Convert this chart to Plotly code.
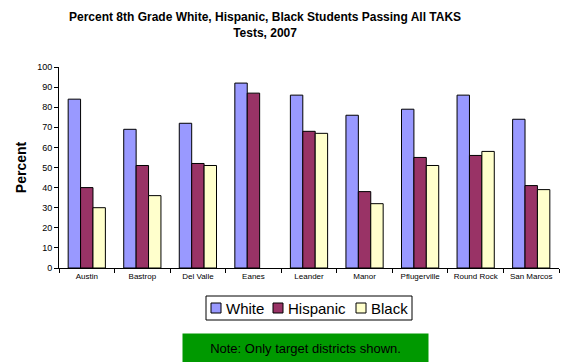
import plotly.graph_objects as go

districts = ["Austin", "Bastrop", "Del Valle", "Eanes", "Leander", "Manor",
             "Pflugerville", "Round Rock", "San Marcos"]
white = [84, 69, 72, 92, 86, 76, 79, 86, 74]
hispanic = [40, 51, 52, 87, 68, 38, 55, 56, 41]
black = [30, 36, 51, None, 67, 32, 51, 58, 39]

series_names = ["White", "Hispanic", "Black"]
series_values = [white, hispanic, black]
series_colors = ["#9999FF", "#993366", "#FFFFCC"]

FONT = "Liberation Sans, Arial, sans-serif"
W, H = 562, 362
L, R, T, B = 59, 3, 67, 94
PW, PH = W - L - R, H - T - B


def px_x(x):
    return (x - L) / PW


def px_y(y):
    return (H - B - y) / PH


fig = go.Figure()
for name, vals, color in zip(series_names, series_values, series_colors):
    fig.add_trace(go.Bar(
        x=districts, y=vals, name=name, showlegend=False,
        marker=dict(color=color, line=dict(color="black", width=1)),
    ))

fig.update_layout(
    width=W, height=H,
    margin=dict(l=L, r=R, t=T, b=B),
    paper_bgcolor="white", plot_bgcolor="white",
    barmode="group", bargap=0.33, bargroupgap=0,
    font=dict(family=FONT, color="black"),
)

# Chart title
fig.add_annotation(
    text="<b>Percent 8th Grade White, Hispanic, Black Students Passing All TAKS<br>Tests, 2007</b>",
    xref="paper", yref="paper", x=px_x(265), y=px_y(25),
    xanchor="center", yanchor="middle", showarrow=False,
    font=dict(size=12, family=FONT, color="black"),
)

fig.update_xaxes(
    showline=True, linecolor="black", linewidth=1,
    ticks="outside", ticklen=4, tickcolor="black", tickson="boundaries",
    tickfont=dict(size=8, family=FONT), showgrid=False,
)
fig.update_yaxes(
    range=[0, 100], dtick=10, showline=True, linecolor="black", linewidth=1,
    ticks="outside", ticklen=4, tickcolor="black",
    tickfont=dict(size=9, family=FONT), showgrid=False, zeroline=False,
    title=dict(text="<b>Percent</b>", font=dict(size=14, family=FONT), standoff=7),
)

# Legend: framed box with a swatch and label for each series
fig.add_shape(type="rect", xref="paper", yref="paper",
              x0=px_x(206), x1=px_x(412), y0=px_y(296), y1=px_y(320),
              line=dict(color="black", width=1), fillcolor="white")
swatch_left = [211, 273, 356]
for name, color, sx in zip(series_names, series_colors, swatch_left):
    fig.add_shape(type="rect", xref="paper", yref="paper",
                  x0=px_x(sx), x1=px_x(sx + 10), y0=px_y(303), y1=px_y(313),
                  line=dict(color="black", width=1), fillcolor=color)
    fig.add_annotation(text=name, xref="paper", yref="paper",
                       x=px_x(sx + 13), y=px_y(308), xanchor="left", yanchor="middle",
                       showarrow=False, font=dict(size=15, family=FONT, color="black"))

fig.add_annotation(
    text="Note: Only target districts shown.",
    xref="paper", yref="paper", x=px_x(305), y=px_y(348),
    xanchor="center", yanchor="middle", showarrow=False,
    bgcolor="#009900", width=243, height=26,
    font=dict(size=13, family=FONT, color="black"),
)

fig.write_html("out.html")
